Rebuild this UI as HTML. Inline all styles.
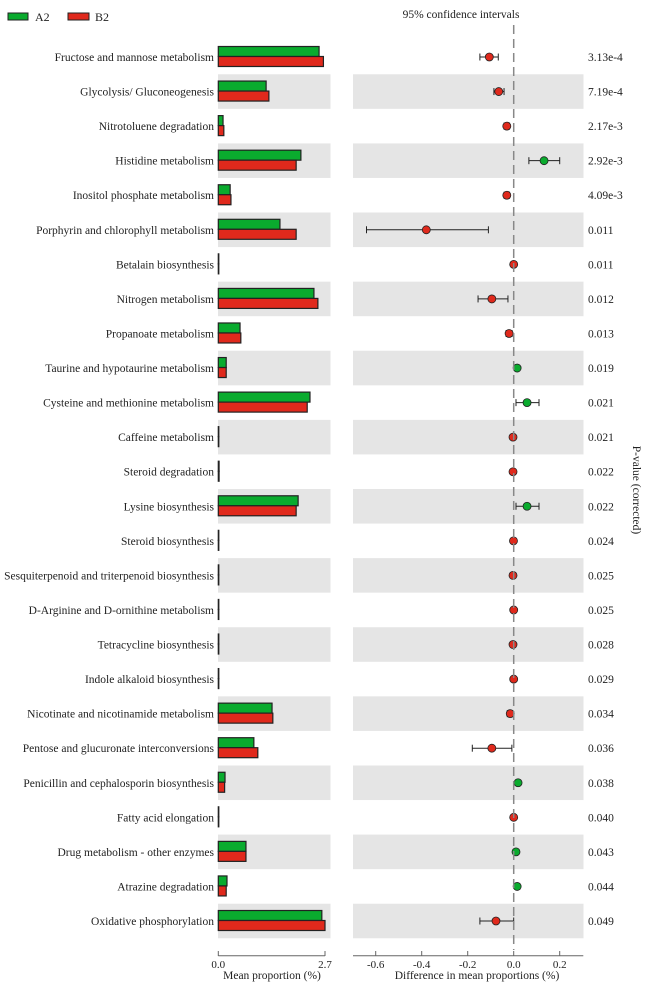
<!DOCTYPE html>
<html><head><meta charset="utf-8"><style>
body{margin:0;background:#fff;}
svg text{font-family:"Liberation Serif",serif;fill:#222;}
</style></head><body>
<svg id="chart" width="650" height="992" viewBox="0 0 650 992" xmlns="http://www.w3.org/2000/svg">
<g>
<rect x="8" y="13" width="20" height="7" fill="#0aab2e" stroke="#222" stroke-width="1"/>
<text x="35" y="21" font-size="12">A2</text>
<rect x="68" y="13" width="21" height="7" fill="#e0291c" stroke="#222" stroke-width="1"/>
<text x="95" y="21" font-size="12">B2</text>
</g>
<text x="461" y="18" font-size="11.5" text-anchor="middle">95% confidence intervals</text>
<text transform="translate(633,490) rotate(90)" font-size="11.5" text-anchor="middle">P-value (corrected)</text>
<g id="bg"></g><g id="marks"></g><g id="axes"></g>
</svg>
<script>
const categories=["Fructose and mannose metabolism","Glycolysis/ Gluconeogenesis","Nitrotoluene degradation","Histidine metabolism","Inositol phosphate metabolism","Porphyrin and chlorophyll metabolism","Betalain biosynthesis","Nitrogen metabolism","Propanoate metabolism","Taurine and hypotaurine metabolism","Cysteine and methionine metabolism","Caffeine metabolism","Steroid degradation","Lysine biosynthesis","Steroid biosynthesis","Sesquiterpenoid and triterpenoid biosynthesis","D-Arginine and D-ornithine metabolism","Tetracycline biosynthesis","Indole alkaloid biosynthesis","Nicotinate and nicotinamide metabolism","Pentose and glucuronate interconversions","Penicillin and cephalosporin biosynthesis","Fatty acid elongation","Drug metabolism - other enzymes","Atrazine degradation","Oxidative phosphorylation"];
const meanA2=[2.55,1.21,0.12,2.09,0.30,1.56,0.01,2.42,0.55,0.20,2.32,0.01,0.02,2.02,0.01,0.01,0.01,0.01,0.01,1.36,0.90,0.17,0.01,0.70,0.22,2.62];
const meanB2=[2.66,1.28,0.14,1.97,0.32,1.97,0.01,2.52,0.57,0.20,2.25,0.01,0.02,1.97,0.01,0.01,0.01,0.01,0.01,1.38,1.00,0.16,0.01,0.70,0.20,2.70];
const diff=[-0.106,-0.065,-0.03,0.132,-0.03,-0.38,0.0,-0.095,-0.02,0.015,0.058,-0.003,-0.003,0.058,-0.001,-0.003,0.0,-0.003,0.0,-0.015,-0.095,0.019,0.0,0.01,0.015,-0.077];
const ciLow=[-0.147,-0.086,-0.042,0.066,-0.042,-0.64,-0.003,-0.155,-0.033,0.006,0.01,-0.006,-0.006,0.01,-0.004,-0.006,-0.003,-0.006,-0.003,-0.028,-0.18,0.01,-0.003,0.004,0.006,-0.147];
const ciHigh=[-0.067,-0.042,-0.018,0.2,-0.018,-0.11,0.003,-0.025,-0.007,0.024,0.11,0.0,0.0,0.11,0.002,0.0,0.003,0.0,0.003,-0.006,-0.008,0.028,0.003,0.016,0.026,0.0];
const pValues=["3.13e-4","7.19e-4","2.17e-3","2.92e-3","4.09e-3","0.011","0.011","0.012","0.013","0.019","0.021","0.021","0.022","0.022","0.024","0.025","0.025","0.028","0.029","0.034","0.036","0.038","0.040","0.043","0.044","0.049"];
const leftTicks=[0.0,2.7];
const rightTicks=[-0.6,-0.4,-0.2,0.0,0.2];

const NS="http://www.w3.org/2000/svg";
const xL=v=>218.3+v*(106.7/2.7);
const xR=v=>513.7+v*230;
const yRow=i=>57+i*34.56;
const rowH=34.56;
function mk(tag,attrs,parent,txt){const e=document.createElementNS(NS,tag);for(const k in attrs)e.setAttribute(k,attrs[k]);if(txt!==undefined)e.textContent=txt;document.getElementById(parent).appendChild(e);return e;}

categories.forEach((c,i)=>{
  const y=yRow(i);
  if(i%2===1){
    const b1=mk('rect',{x:218,y:y-rowH/2,width:112.5,height:rowH,fill:'#e5e5e5'},'bg');
    
    
    const b2=mk('rect',{x:353,y:y-rowH/2,width:230.5,height:rowH,fill:'#e5e5e5'},'bg');
    
    
  }
  const t=mk('text',{x:214,y:y+4,'font-size':11.5,'text-anchor':'end'},'marks',c);
  
  
  const ga=mk('rect',{x:xL(0),y:y-10.5,width:Math.max(xL(meanA2[i])-xL(0),0.5),height:10,fill:'#0aab2e',stroke:'#222','stroke-width':1.2},'marks');
  
  
  const rb=mk('rect',{x:xL(0),y:y-0.5,width:Math.max(xL(meanB2[i])-xL(0),0.5),height:10,fill:'#e0291c',stroke:'#222','stroke-width':1.2},'marks');
  
  
  const ci=mk('line',{x1:xR(ciLow[i]),x2:xR(ciHigh[i]),y1:y,y2:y,stroke:'#222','stroke-width':1},'marks');
  
  
  [ciLow[i],ciHigh[i]].forEach(v=>{
    const cap=mk('line',{x1:xR(v),x2:xR(v),y1:y-3.5,y2:y+3.5,stroke:'#222','stroke-width':1},'marks');
    
    
  });
  const pt=mk('circle',{cx:xR(diff[i]),cy:y,r:4,fill:diff[i]>0?'#0aab2e':'#e0291c',stroke:'#222','stroke-width':0.8},'marks');
  
  
  const p=mk('text',{x:588,y:y+4,'font-size':11.5},'marks',pValues[i]);
  
  
});
const dl=mk('line',{x1:xR(0),x2:xR(0),y1:25,y2:950,stroke:'#888','stroke-width':1.5,'stroke-dasharray':'9,5'},'marks');


const la=mk('line',{x1:xL(0),x2:xL(2.7),y1:955.7,y2:955.7,stroke:'#666','stroke-width':1},'axes');


leftTicks.forEach(v=>{
  const tk=mk('line',{x1:xL(v),x2:xL(v),y1:951,y2:956,stroke:'#666'},'axes');
  
  
  const tl=mk('text',{x:xL(v),y:968,'font-size':11,'text-anchor':'middle'},'axes',v.toFixed(1));
  
  
});
const ra=mk('line',{x1:353,x2:583.3,y1:955.7,y2:955.7,stroke:'#666','stroke-width':1},'axes');


rightTicks.forEach(v=>{
  const tk=mk('line',{x1:xR(v),x2:xR(v),y1:951,y2:956,stroke:'#666'},'axes');
  
  
  const tl=mk('text',{x:xR(v),y:968,'font-size':11,'text-anchor':'middle'},'axes',v.toFixed(1));
  
  
});
const t1=mk('text',{x:272,y:979,'font-size':11.5,'text-anchor':'middle'},'axes','Mean proportion (%)');


const t2=mk('text',{x:477,y:979,'font-size':11.5,'text-anchor':'middle'},'axes','Difference in mean proportions (%)');


</script>
</body></html>
